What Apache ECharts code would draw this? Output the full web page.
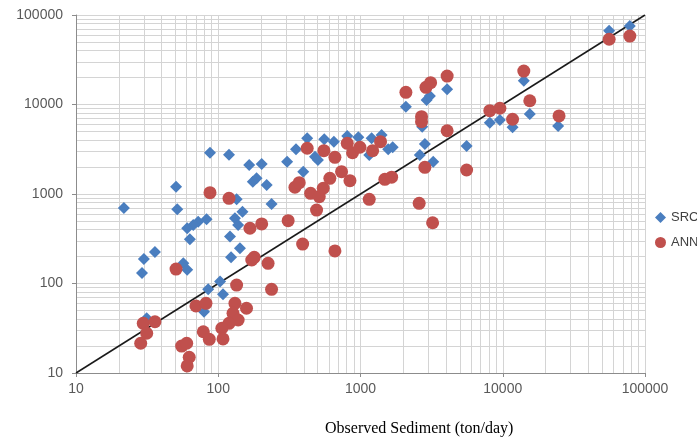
<!DOCTYPE html>
<html>
<head>
<meta charset="utf-8">
<script src="https://cdn.jsdelivr.net/npm/echarts@6/dist/echarts.min.js"></script>
<style>html,body{margin:0;padding:0;background:#fff;}#c{width:697px;height:438px;}</style>
</head>
<body>
<div id="c"></div>
<script>
// Observed sediment (ton/day) vs predicted, SRC
var srcData = [
[21.7,698],[29.1,131],[30,188],[35.9,225],[50.5,1208],[51.5,675],[87.5,2890],[119,2750],[165,2110],[202,2160],
[175,1370],[186,1500],[134.6,873],[148,634],[131,535],[138,451],[121,334],[142,247],[123,196],[82.8,521],
[72.3,490],[66.7,451],[60.5,414],[63.2,312],[219,1260],[56.8,168],[60.5,142],[85,86],[103,105],[108,75.7],
[79.4,48.4],[31.4,40.8],[237,773],[305,2300],[352,3160],[422,4190],[396,1775],[479,2610],[502,2400],[556,4080],
[650,3840],[807,4450],[965,4300],[1152,2730],[1197,4190],[1407,4560],[1566,3160],[1683,3330],[2085,9440],[2612,2730],
[2714,5650],[2835,3620],[3245,2300],[2915,11220],[3075,12450],[4065,14800],[5570,3435],[8110,6270],[9550,6710],[11720,5560],
[15490,7830],[14060,18450],[24500,5750],[55970,66800],[78200,75350]
];
// ANN
var annData = [
[87.5,1035],[119,895],[167,414],[202,463],[50.5,145],[179,196],[172,183],[224,168],[134.6,96],[69.7,56.1],
[82,60],[131,60],[127,46.4],[158,52.9],[138,39.1],[119,35.9],[106,31.6],[108,24],[78.5,28.9],[86.5,23.8],
[55.3,20],[60,21.5],[62.5,15],[60.5,12],[29.7,35.9],[35.9,37.4],[31.4,27.8],[28.5,21.5],[237,86],[310,503],
[392,276],[661,231],[346,1190],[371,1337],[422,3245],[446,1018],[513,933],[491,662],[547,1160],[609,1497],
[736,1775],[843,1408],[553,3050],[661,2570],[807,3680],[879,2890],[991,3330],[1217,3050],[1383,3840],[1152,873],
[1483,1459],[1655,1540],[2085,13680],[2686,7310],[2686,6430],[2885,15560],[3110,17540],[4065,20800],[4065,5090],[2585,787],
[2835,1987],[3213,477],[5570,1853],[8110,8530],[9550,9080],[11720,6840],[15490,11020],[14060,23650],[24870,7450],[55970,53600],
[78200,58200]
];
var lineData = [[10,10],[100000,100000]];
var tickLabels = [10,100,1000,10000,100000];
var seriesNames = ['SRC','ANN'];
var xTitle = 'Observed Sediment (ton/day)';

var minorX = [], minorY = [];
for (var d = 10; d < 100000; d *= 10) {
  for (var k = 2; k <= 9; k++) {
    minorX.push({xAxis: d * k});
    minorY.push({yAxis: d * k});
  }
}

var chart = echarts.init(document.getElementById('c'), null, {renderer:'canvas'});
var axisCommon = {
  type: 'log', logBase: 10, min: tickLabels[0], max: tickLabels[tickLabels.length-1],
  axisLine: {show: true, lineStyle: {color: '#8c8c8c', width: 1}},
  axisTick: {show: true, length: 4, lineStyle: {color: '#8c8c8c'}},
  splitLine: {show: true, lineStyle: {color: '#d4d4d4', width: 1}},
  axisLabel: {color: '#595959', fontSize: 14, fontFamily: 'Liberation Sans, Arial, sans-serif',
    formatter: function (v) { return String(Math.round(v)); }}
};
chart.setOption({
  animation: false,
  title: {
    text: xTitle, left: 320, top: 416,
    textStyle: {color: '#000', fontSize: 16, fontWeight: 'normal', fontFamily: 'Liberation Serif, Times New Roman, serif'}
  },
  grid: {left: 76, right: 52, top: 15, bottom: 65},
  legend: {
    orient: 'vertical', left: 650, top: 206, itemGap: 12, itemWidth: 11, itemHeight: 11,
    textStyle: {color: '#404040', fontSize: 13, fontFamily: 'Liberation Sans, Arial, sans-serif'},
    data: [{name: seriesNames[0], icon: 'diamond'}, {name: seriesNames[1], icon: 'circle'}]
  },
  xAxis: Object.assign({}, axisCommon, {
    axisLabel: Object.assign({}, axisCommon.axisLabel, {margin: 9})
  }),
  yAxis: Object.assign({}, axisCommon, {axisLabel: Object.assign({}, axisCommon.axisLabel, {margin: 13})}),
  series: [
    {
      type: 'line', data: lineData, symbol: 'none', silent: true, z: 1,
      lineStyle: {color: '#1a1a1a', width: 1.5},
      markLine: {
        silent: true, symbol: ['none','none'], label: {show: false},
        lineStyle: {color: '#d4d4d4', width: 1, type: 'solid'},
        data: minorX.concat(minorY), z: 0
      }
    },
    {
      name: seriesNames[0], type: 'scatter', data: srcData, symbol: 'diamond', symbolSize: 12, z: 3,
      itemStyle: {color: '#4a7ebf', opacity: 1}
    },
    {
      name: seriesNames[1], type: 'scatter', data: annData, symbol: 'circle', symbolSize: 13, z: 4,
      itemStyle: {color: '#c0504d', opacity: 1}
    }
  ]
});
</script>
</body>
</html>
